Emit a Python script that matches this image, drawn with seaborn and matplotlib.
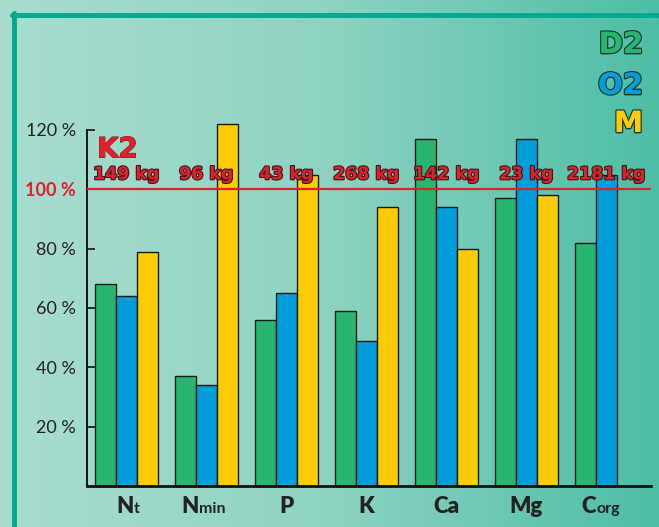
import numpy as np
import pandas as pd
import matplotlib
matplotlib.use("Agg")
import matplotlib.pyplot as plt
import matplotlib.patheffects as pe
from matplotlib.colors import LinearSegmentedColormap
import seaborn as sns

# Nutrient balance (% of requirement) per treatment
nutrients = ["Nt", "Nmin", "P", "K", "Ca", "Mg", "Corg"]
label_main = ["N", "N", "P", "K", "Ca", "Mg", "C"]
label_sub = ["t", "min", "", "", "", "", "org"]
d2 = [68, 37, 56, 59, 117, 97, 82]
o2 = [64, 34, 65, 49, 94, 117, 105]
m = [79, 122, 105, 94, 80, 98, np.nan]
k2_amounts = ["149 kg", "96 kg", "43 kg", "268 kg", "142 kg", "23 kg", "2181 kg"]
series = ["D2", "O2", "M"]
colors = ["#27b56f", "#009ed8", "#ffcb05"]
yticks = [20, 40, 60, 80, 100, 120]

df = pd.DataFrame({
    "nutrient": nutrients * 3,
    "value": d2 + o2 + m,
    "series": [s for s in series for _ in nutrients],
})

sns.set_theme(style="white")
plt.rcParams["font.family"] = ["Lato", "DejaVu Sans"]

fig = plt.figure(figsize=(6.59, 5.27), dpi=100)

# gradient backdrop
bg = fig.add_axes([0, 0, 1, 1], zorder=-10)
cmap = LinearSegmentedColormap.from_list("bg", ["#a9ddd0", "#8ed3c2", "#4dbea5"])
grad = np.linspace(0, 1, 256).reshape(1, -1)
bg.imshow(grad, aspect="auto", cmap=cmap, extent=[0, 1, 0, 1])
bg.set_axis_off()
# teal frame lines
fig.add_artist(plt.Line2D([12 / 659, 1], [1 - 14.5 / 527] * 2, color="#00a98e", lw=3.5, transform=fig.transFigure))
fig.add_artist(plt.Line2D([14 / 659] * 2, [0, 1 - 13 / 527], color="#00a98e", lw=3.5, transform=fig.transFigure))

ax = fig.add_axes([87 / 659, 41 / 527, (651 - 87) / 659, 356 / 527])
ax.patch.set_alpha(0)
sns.barplot(data=df, x="nutrient", y="value", hue="series", order=nutrients,
            hue_order=series, palette=colors, width=0.79, gap=0,
            edgecolor="#1a1a1a", linewidth=1, saturation=1, legend=False, ax=ax)
for bar in ax.patches:
    bar.set_clip_on(False)

ax.set_ylim(0, 120)
ax.set_xlim(-0.49, 6.56)
ax.set_xlabel("")
ax.set_ylabel("")
for s in ["top", "right"]:
    ax.spines[s].set_visible(False)
ax.spines["left"].set_color("#111111")
ax.spines["left"].set_linewidth(1.4)
ax.spines["bottom"].set_color("#111111")
ax.spines["bottom"].set_linewidth(2)

ax.set_yticks(yticks)
ax.set_yticklabels([f"{v} %" for v in yticks], fontsize=13, color="#222222")
ax.tick_params(axis="y", direction="in", length=6, width=1.2, color="#111111", pad=8, left=True)
for lab, v in zip(ax.get_yticklabels(), yticks):
    if v == 100:
        lab.set_color("#e2202c")
        lab.set_fontweight("bold")
ax.set_xticks(range(len(nutrients)))
ax.set_xticklabels([])
ax.tick_params(axis="x", length=0)

# category labels with small subscripts sitting on the baseline
xform = ax.get_xaxis_transform()
label_y = -0.076
for i, (main, sub) in enumerate(zip(label_main, label_sub)):
    shift = {"t": -0.02, "min": -0.2, "org": -0.22}.get(sub, 0)
    t = ax.text(i + shift, label_y, main, transform=xform, fontsize=16, fontweight="heavy",
                color="#222222", ha="center", va="baseline")
    if sub:
        ax.annotate(sub, xy=(1, label_y), xycoords=(t, xform), xytext=(0.3, 0),
                    textcoords="offset points", fontsize=11.5, fontweight="bold",
                    color="#222222", ha="left", va="baseline")

ax.axhline(100, color="#e2202c", lw=1.6, zorder=5)

outline = [pe.withStroke(linewidth=1.6, foreground="#3a1a1a")]
ax.text(-0.365, 110.8, "K2", color="#e2202c", fontsize=20, fontweight="bold",
        family="DejaVu Sans", ha="left", va="baseline", zorder=6,
        path_effects=[pe.withStroke(linewidth=0.8, foreground="#5a1a1a"), pe.Normal()])
for i, lab in enumerate(k2_amounts):
    ax.text(i, 103.4, lab, color="#e2202c", fontsize=12.5, fontweight="bold",
            family="DejaVu Sans", ha="center", va="baseline",
            path_effects=outline, zorder=6)

# series key in the top right corner
for label, col, yp in zip(series, colors, [45, 86, 124]):
    fig.text(643 / 659, 1 - yp / 527, label, color=col, fontsize=21, fontweight="bold",
             family="DejaVu Sans", ha="right", va="center",
             path_effects=[pe.withStroke(linewidth=2, foreground="#1f3a30"), pe.Normal()])

fig.savefig("out.png", dpi=100)
